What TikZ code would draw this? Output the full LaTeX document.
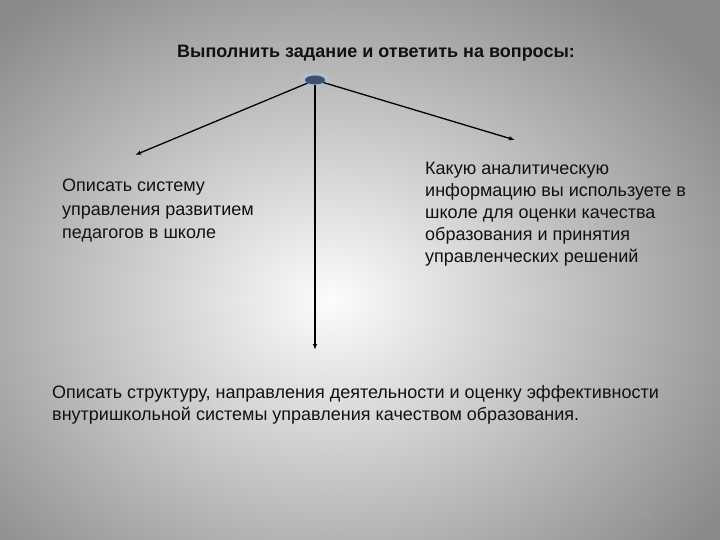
\documentclass[tikz,border=0pt]{standalone}
\usepackage{fontspec}
\setmainfont{Liberation Sans}
\usetikzlibrary{shapes.geometric,arrows.meta}
\definecolor{bgout}{HTML}{8A8A8A}
\definecolor{bgin}{HTML}{FCFCFC}
\definecolor{hubc}{HTML}{3E4E6E}
\definecolor{halo}{HTML}{A9C4E4}
\definecolor{txt}{HTML}{111111}
\begin{document}
\begin{tikzpicture}[x=1pt,y=-1pt,
  conn/.style={line width=1.3pt,black,-{Latex[length=6pt,width=4.5pt]}},
  lbl/.style={anchor=north west,inner sep=0pt,align=left,text=txt,font=\fontsize{18}{23.5}\selectfont},
]
\useasboundingbox (0,0) rectangle (720,540);
\shade[inner color=bgin,outer color=bgout] (-140,-80) rectangle (800,680);
\node[inner sep=0pt,text=txt,font=\fontsize{18}{20}\selectfont\bfseries] (title) at (376,53) {Выполнить задание и ответить на вопросы:};
\fill[halo,opacity=0.6] (315,80) ellipse (15pt and 7.5pt);
\node[ellipse,fill=hubc,minimum width=20pt,minimum height=9pt,inner sep=0pt] (hub) at (315,80) {};
\coordinate (lend) at (135,155);
\coordinate (rend) at (515,140);
\coordinate (dend) at (315,350);
\draw[conn] (hub) -- (lend);
\draw[conn] (hub) -- (rend);
\draw[conn] (hub) -- (dend);
\node[lbl] (left) at (62,179) {Описать систему\\управления развитием\\педагогов в школе};
\node[lbl,font=\fontsize{18}{22}\selectfont] (right) at (425,162) {Какую аналитическую\\информацию вы используете в\\школе для оценки качества\\образования и принятия\\управленческих решений};
\node[lbl,font=\fontsize{18}{22}\selectfont] (bottom) at (52,385) {Описать структуру, направления деятельности и оценку эффективности\\внутришкольной системы управления качеством образования.};
\node[inner sep=0pt,text=gray!75,font=\fontsize{9}{10}\selectfont] (pnum) at (645,513) {44};
\end{tikzpicture}
\end{document}
